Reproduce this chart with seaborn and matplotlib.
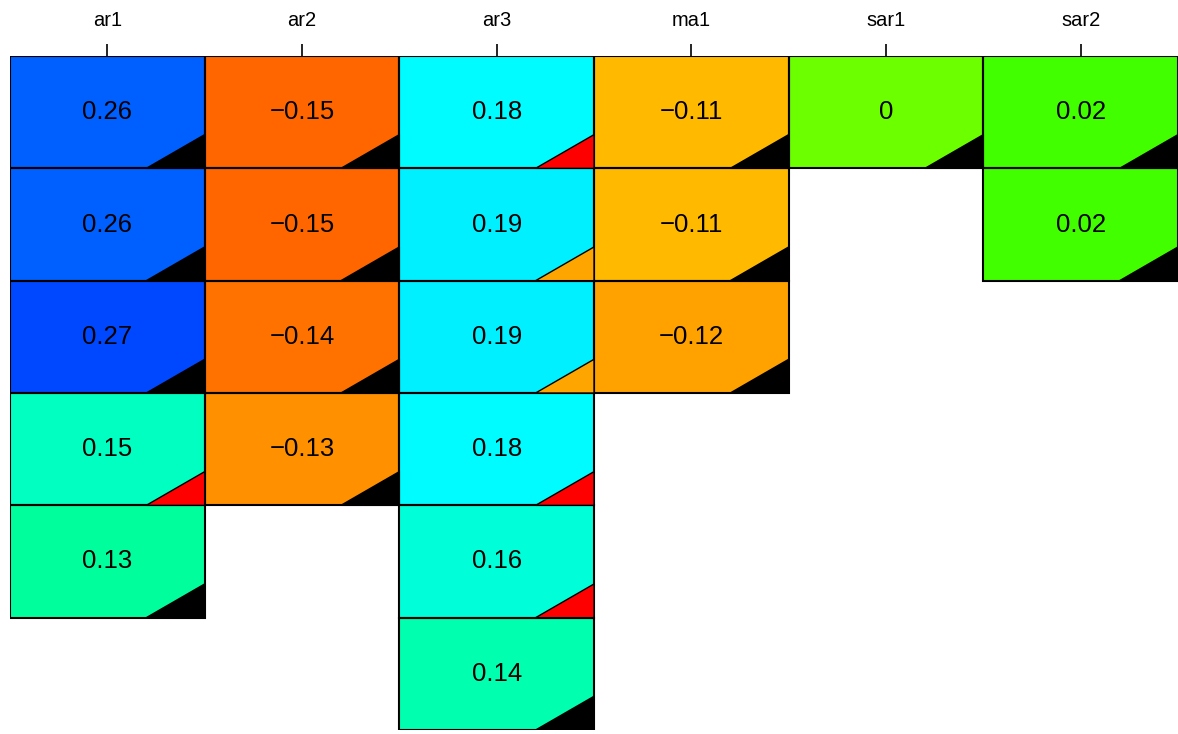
#!/usr/bin/env python3
"""Grid of coefficient estimates per model term, coloured by value,
with a corner flag marking each estimate's significance class."""

import matplotlib
matplotlib.use("Agg")
import matplotlib.pyplot as plt
from matplotlib.colors import LinearSegmentedColormap
from matplotlib.patches import Polygon, Rectangle
import numpy as np
import pandas as pd
import seaborn as sns

terms = ["ar1", "ar2", "ar3", "ma1", "sar1", "sar2"]
nan = np.nan

# estimate values, one list per term (rows = model variants)
ar1 = [0.26, 0.26, 0.27, 0.15, 0.13, nan]
ar2 = [-0.15, -0.15, -0.144, -0.13, nan, nan]
ar3 = [0.18, 0.186, 0.186, 0.18, 0.16, 0.14]
ma1 = [-0.11, -0.11, -0.12, nan, nan, nan]
sar1 = [0.0, nan, nan, nan, nan, nan]
sar2 = [0.02, 0.02, nan, nan, nan, nan]

# significance flag shown in the corner of each cell
flag_ar1 = ["black", "black", "black", "red", "black", None]
flag_ar2 = ["black", "black", "black", "black", None, None]
flag_ar3 = ["red", "orange", "orange", "red", "red", "black"]
flag_ma1 = ["black", "black", "black", None, None, None]
flag_sar1 = ["black", None, None, None, None, None]
flag_sar2 = ["black", "black", None, None, None, None]

df = pd.DataFrame(dict(zip(terms, [ar1, ar2, ar3, ma1, sar1, sar2])))
flags = pd.DataFrame(dict(zip(terms, [flag_ar1, flag_ar2, flag_ar3,
                                      flag_ma1, flag_sar1, flag_sar2])))


def fmt(v):
    if np.isnan(v):
        return ""
    s = f"{v:.2f}".rstrip("0").rstrip(".")
    if s in ("-0", ""):
        s = "0"
    return s.replace("-", "\u2212")


annot = df.apply(lambda col: col.map(fmt))

# pure hue wheel, red -> yellow -> green -> cyan -> blue -> magenta
hue = LinearSegmentedColormap.from_list(
    "hue", ["#FF0000", "#FFFF00", "#00FF00", "#00FFFF",
            "#0000FF", "#FF00FF", "#FF0000"])

plt.rcParams["font.family"] = ["Liberation Sans", "DejaVu Sans"]

fig = plt.figure(figsize=(11.78, 7.34), dpi=100)
ax = fig.add_axes([10 / 1178, 4 / 734, 1168 / 1178, 674 / 734])

sns.heatmap(df, ax=ax, cmap=hue, vmin=-0.203, vmax=0.563, cbar=False,
            annot=annot.values, fmt="",
            annot_kws={"color": "black", "fontsize": 18.5})

nrow, ncol = df.shape
for c in range(ncol):
    for r in range(nrow):
        if np.isnan(df.iat[r, c]):
            continue
        ax.add_patch(Rectangle((c, r), 1, 1, fill=False,
                               edgecolor="black", lw=1.5, zorder=3))
        ax.add_patch(Polygon([(c + 1, r + 1), (c + 0.7, r + 1), (c + 1, r + 0.7)],
                             closed=True, facecolor=flags.iat[r, c],
                             edgecolor="black", lw=1.0, zorder=4))

ax.xaxis.tick_top()
ax.set_yticks([])
ax.set_xlabel("")
ax.set_ylabel("")
ax.tick_params(axis="x", length=9, width=1.2, pad=10, labelsize=14.5,
               rotation=0)
for s in ax.spines.values():
    s.set_visible(False)

fig.savefig("out.png", dpi=100)
plt.close(fig)
